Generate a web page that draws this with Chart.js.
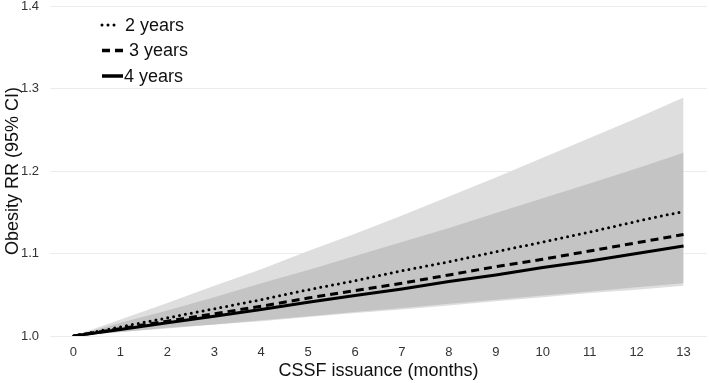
<!DOCTYPE html>
<html>
<head>
<meta charset="utf-8">
<script src="https://cdn.jsdelivr.net/npm/chart.js@4.4.1/dist/chart.umd.min.js"></script>
<style>
  html, body { margin: 0; padding: 0; background: #fff; }
  #wrap { width: 709px; height: 383px; position: relative; }
</style>
</head>
<body>
<div id="wrap"><canvas id="mycanvas"></canvas></div>
<script>
var months = ['0', '1', '2', '3', '4', '5', '6', '7', '8', '9', '10', '11', '12', '13'];
var yTicks = [1.0, 1.1, 1.2, 1.3, 1.4];

var rr2 = [1.000, 1.011, 1.022, 1.033, 1.044, 1.056, 1.067, 1.079, 1.090, 1.102, 1.114, 1.126, 1.139, 1.151];
var rr3 = [1.000, 1.009, 1.018, 1.027, 1.036, 1.046, 1.055, 1.064, 1.074, 1.084, 1.093, 1.103, 1.113, 1.123];
var rr4 = [1.000, 1.008, 1.016, 1.024, 1.032, 1.041, 1.049, 1.057, 1.066, 1.074, 1.083, 1.091, 1.100, 1.109];

var outerUpper = [1.000, 1.020, 1.040, 1.061, 1.081, 1.103, 1.124, 1.146, 1.169, 1.192, 1.216, 1.240, 1.264, 1.289];
var outerLower = [1.000, 1.005, 1.009, 1.014, 1.018, 1.023, 1.028, 1.032, 1.037, 1.042, 1.047, 1.052, 1.056, 1.061];
var innerUpper = [1.000, 1.016, 1.031, 1.047, 1.064, 1.080, 1.097, 1.114, 1.131, 1.149, 1.167, 1.185, 1.203, 1.222];
var innerLower = [1.000, 1.005, 1.010, 1.014, 1.019, 1.024, 1.029, 1.034, 1.039, 1.044, 1.049, 1.054, 1.059, 1.064];

var legendItems = [
    { label: '2 years', dash: [0, 6], width: 3, len: 14, gap: 9 },
    { label: '3 years', dash: [8, 5], width: 3.5, len: 22, gap: 5 },
    { label: '4 years', dash: [], width: 3.5, len: 21, gap: 1 }
];

// legend drawn inside the plot, top-left
var innerLegend = {
    id: 'innerLegend',
    afterDraw: function (chart) {
        var ctx = chart.ctx;
        ctx.save();
        ctx.font = '18px "Liberation Sans", Arial, sans-serif';
        ctx.fillStyle = '#111';
        ctx.textBaseline = 'middle';
        for (var i = 0; i < legendItems.length; i++) {
            var it = legendItems[i];
            var y = 25 + i * 25.5;
            ctx.beginPath();
            ctx.strokeStyle = '#000';
            ctx.lineWidth = it.width;
            ctx.lineCap = it.dash.length && it.dash[0] === 0 ? 'round' : 'butt';
            ctx.setLineDash(it.dash);
            ctx.moveTo(102, y);
            ctx.lineTo(102 + it.len, y);
            ctx.stroke();
            ctx.setLineDash([]);
            ctx.fillText(it.label, 102 + it.len + it.gap, y + 1);
        }
        ctx.restore();
    }
};

var ctx = document.getElementById('mycanvas');

var chart = new Chart(ctx, {
    type: 'line',
    data: {
        labels: months,
        datasets: [
            { label: '2 years', data: rr2, borderColor: '#000', borderWidth: 3, borderDash: [0, 6], borderCapStyle: 'round', pointRadius: 0, fill: false, order: 0 },
            { label: '3 years', data: rr3, borderColor: '#000', borderWidth: 3, borderDash: [8, 5], pointRadius: 0, fill: false, order: 0 },
            { label: '4 years', data: rr4, borderColor: '#000', borderWidth: 3, pointRadius: 0, fill: false, order: 0 },
            { label: 'inner upper', data: innerUpper, borderWidth: 0, borderColor: 'rgba(0,0,0,0)', backgroundColor: '#c4c4c4', pointRadius: 0, fill: '+1', order: 1 },
            { label: 'inner lower', data: innerLower, borderWidth: 0, borderColor: 'rgba(0,0,0,0)', pointRadius: 0, fill: false, order: 1 },
            { label: 'outer upper', data: outerUpper, borderWidth: 0, borderColor: 'rgba(0,0,0,0)', backgroundColor: '#dedede', pointRadius: 0, fill: '+1', order: 2 },
            { label: 'outer lower', data: outerLower, borderWidth: 0, borderColor: 'rgba(0,0,0,0)', pointRadius: 0, fill: false, order: 2 }
        ]
    },
    options: {
        responsive: true,
        maintainAspectRatio: false,
        animation: false,
        layout: { padding: { top: 6, right: 2, left: 2, bottom: 0 } },
        plugins: {
            legend: { display: false },
            tooltip: { enabled: false }
        },
        scales: {
            x: {
                offset: true,
                grid: { display: false, drawTicks: false },
                border: { display: false },
                ticks: { color: '#333', font: { size: 13, family: '"Liberation Sans", Arial' }, padding: 9, maxRotation: 0 },
                title: { display: true, text: 'CSSF issuance (months)', color: '#111', font: { size: 18, family: '"Liberation Sans", Arial' }, padding: { top: 0, bottom: 1 } },
                afterFit: function (s) { s.height = 47; }
            },
            y: {
                min: 1.0,
                max: 1.4,
                afterBuildTicks: function (s) { s.ticks = yTicks.map(function (v) { return { value: v }; }); },
                grid: { color: '#ececec', drawTicks: false },
                border: { display: false },
                ticks: { color: '#333', font: { size: 13, family: '"Liberation Sans", Arial' }, padding: 11, callback: function (v) { return v.toFixed(1); } },
                title: { display: true, text: 'Obesity RR (95% CI)', color: '#111', font: { size: 18, family: '"Liberation Sans", Arial' }, padding: { top: 0, bottom: 0 } },
                afterFit: function (s) { s.width = 48; s.paddingTop = 0; s.paddingBottom = 0; }
            }
        }
    },
    plugins: [innerLegend]
});
</script>
</body>
</html>
